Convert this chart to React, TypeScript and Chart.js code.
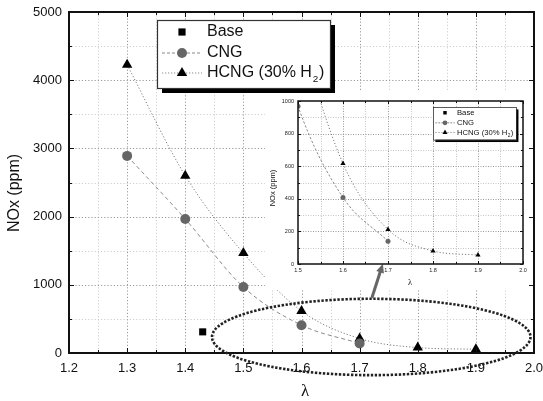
import React, { useEffect, useRef } from "react";
import { Chart, registerables } from "chart.js";
Chart.register(...registerables);

const SANS = "'Liberation Sans', Arial, Helvetica, sans-serif";
const SERIF = "'Liberation Serif', 'Times New Roman', serif";

// ---- data ----
const baseLambda = [1.43];
const baseNOx = [310];
const cngLambda = [1.3, 1.4, 1.5, 1.6, 1.7];
const cngNOx = [2890, 1965, 968, 408, 140];
const hcngLambda = [1.3, 1.4, 1.5, 1.6, 1.7, 1.8, 1.9];
const hcngNOx = [4225, 2600, 1465, 616, 212, 80, 55];
const seriesNames = ["Base", "CNG", "HCNG (30% H_2)"];

// ---- ticks ----
const mainXTicks = [1.2, 1.3, 1.4, 1.5, 1.6, 1.7, 1.8, 1.9, 2.0];
const mainXMinor = [1.25, 1.35, 1.45, 1.55, 1.65, 1.75, 1.85, 1.95];
const mainYTicks = [0, 1000, 2000, 3000, 4000, 5000];
const mainYMinor = [500, 1500, 2500, 3500, 4500];
const insetXTicks = [1.5, 1.6, 1.7, 1.8, 1.9, 2.0];
const insetXMinor = [1.55, 1.65, 1.75, 1.85, 1.95];
const insetYTicks = [0, 200, 400, 600, 800, 1000];
const insetYMinor = [100, 300, 500, 700, 900];

// ---- zoom annotation (data units) ----
const zoomCenter = { lambda: 1.72, nox: 235 };
const zoomRadius = { lambda: 0.274, nox: 560 };
const arrowFrom = { lambda: 1.721, nox: 806 };
const arrowTo = { lambda: 1.74, nox: 1310 };

// ---- layout ----
const W = 543;
const H = 401;
const INSET = { left: 265, top: 92, width: 268, height: 198 };

function pts(xs: number[], ys: number[]) {
  return xs.map((x, i) => ({ x, y: ys[i] }));
}

function makeDatasets(s: number): any[] {
  return [
    {
      label: seriesNames[0],
      data: pts(baseLambda, baseNOx),
      showLine: false,
      pointStyle: "rect",
      pointRadius: 5 * s,
      pointBackgroundColor: "#000",
      pointBorderColor: "#000",
      pointBorderWidth: 0,
    },
    {
      label: seriesNames[1],
      data: pts(cngLambda, cngNOx),
      showLine: true,
      borderColor: "#8a8a8a",
      borderWidth: 1,
      borderDash: [4 * Math.max(s, 0.6), 3 * Math.max(s, 0.6)],
      cubicInterpolationMode: "monotone",
      pointStyle: "circle",
      pointRadius: 5 * s,
      pointBackgroundColor: "#666",
      pointBorderColor: "#666",
      pointBorderWidth: 0,
    },
    {
      label: seriesNames[2],
      data: pts(hcngLambda, hcngNOx),
      showLine: true,
      borderColor: "#7a7a7a",
      borderWidth: 1,
      borderDash: [1.2, 2],
      cubicInterpolationMode: "monotone",
      pointStyle: "triangle",
      pointRadius: 6 * s,
      pointBackgroundColor: "#000",
      pointBorderColor: "#000",
      pointBorderWidth: 0,
    },
  ];
}

function drawLabel(ctx: CanvasRenderingContext2D, text: string, x: number, y: number, size: number) {
  const parts = text.split("_");
  ctx.textBaseline = "middle";
  ctx.textAlign = "left";
  ctx.font = `${size}px ${SANS}`;
  ctx.fillText(parts[0], x, y);
  if (parts.length > 1) {
    let cx = x + ctx.measureText(parts[0]).width;
    const sub = parts[1].charAt(0);
    const rest = parts[1].slice(1);
    ctx.font = `${size * 0.62}px ${SANS}`;
    ctx.fillText(sub, cx + size * 0.05, y + size * 0.42);
    cx += ctx.measureText(sub).width + size * 0.1;
    ctx.font = `${size}px ${SANS}`;
    ctx.fillText(rest, cx, y);
  }
}

function drawMarker(ctx: CanvasRenderingContext2D, kind: number, x: number, y: number, s: number) {
  ctx.setLineDash([]);
  if (kind === 0) {
    ctx.fillStyle = "#000";
    const a = 3.6 * s;
    ctx.fillRect(x - a, y - a, 2 * a, 2 * a);
  } else if (kind === 1) {
    ctx.fillStyle = "#666";
    ctx.beginPath();
    ctx.arc(x, y, 5 * s, 0, Math.PI * 2);
    ctx.fill();
  } else {
    ctx.fillStyle = "#000";
    const r = 6 * s;
    ctx.beginPath();
    ctx.moveTo(x, y - r);
    ctx.lineTo(x + r * 0.866, y + r * 0.5);
    ctx.lineTo(x - r * 0.866, y + r * 0.5);
    ctx.closePath();
    ctx.fill();
  }
}

function drawLegend(ctx: CanvasRenderingContext2D, left: number, top: number, s: number) {
  const w = 173 * s;
  const h = 68 * s;
  const sh = 5 * s;
  ctx.save();
  ctx.fillStyle = "#000";
  ctx.fillRect(left + sh, top + sh, w, h);
  ctx.fillStyle = "#fff";
  ctx.fillRect(left, top, w, h);
  ctx.strokeStyle = "#333";
  ctx.lineWidth = Math.max(0.8, 1.2 * s);
  ctx.strokeRect(left + 0.5, top + 0.5, w, h);
  const rows = [12, 33, 53];
  rows.forEach((ry, i) => {
    const y = top + ry * s;
    if (i > 0) {
      ctx.strokeStyle = "#888";
      ctx.lineWidth = 1;
      ctx.setLineDash(i === 1 ? [3 * Math.max(s, 0.6), 2 * Math.max(s, 0.6)] : [1.2, 1.8]);
      ctx.beginPath();
      ctx.moveTo(left + 5 * s, y);
      ctx.lineTo(left + 45 * s, y);
      ctx.stroke();
    }
    drawMarker(ctx, i, left + 25 * s, y, s);
    ctx.fillStyle = "#111";
    drawLabel(ctx, seriesNames[i], left + 50 * s, y, 16 * s);
  });
  ctx.restore();
}

interface FrameCfg {
  xMajor: number[];
  xMinor: number[];
  yMajor: number[];
  yMinor: number[];
  majorColor: string;
  minorColor: string;
  dash: number[];
  tickMajor: number;
  tickMinor: number;
  frameWidth: number;
  beforeFrame?: (chart: any) => void;
  afterFrame?: (chart: any) => void;
}

function framePlugin(cfg: FrameCfg) {
  return {
    id: "frameDeco",
    beforeDatasetsDraw(chart: any) {
      const { ctx, chartArea: a, scales } = chart;
      const x = scales.x;
      const y = scales.y;
      ctx.save();
      ctx.lineWidth = 1;
      ctx.setLineDash(cfg.dash);
      const vline = (v: number) => {
        const px = Math.round(x.getPixelForValue(v)) + 0.5;
        ctx.beginPath();
        ctx.moveTo(px, a.top);
        ctx.lineTo(px, a.bottom);
        ctx.stroke();
      };
      const hline = (v: number) => {
        const py = Math.round(y.getPixelForValue(v)) + 0.5;
        ctx.beginPath();
        ctx.moveTo(a.left, py);
        ctx.lineTo(a.right, py);
        ctx.stroke();
      };
      ctx.strokeStyle = cfg.minorColor;
      cfg.xMinor.forEach(vline);
      cfg.yMinor.forEach(hline);
      ctx.strokeStyle = cfg.majorColor;
      cfg.xMajor.slice(1, -1).forEach(vline);
      cfg.yMajor.slice(1, -1).forEach(hline);
      ctx.restore();
    },
    afterDatasetsDraw(chart: any) {
      const { ctx, chartArea: a, scales } = chart;
      const x = scales.x;
      const y = scales.y;
      if (cfg.beforeFrame) cfg.beforeFrame(chart);
      ctx.save();
      ctx.setLineDash([]);
      ctx.strokeStyle = "#111";
      ctx.lineWidth = cfg.frameWidth;
      ctx.strokeRect(a.left, a.top, a.right - a.left, a.bottom - a.top);
      ctx.lineWidth = 1;
      const tickX = (v: number, len: number) => {
        const px = Math.round(x.getPixelForValue(v)) + 0.5;
        ctx.beginPath();
        ctx.moveTo(px, a.bottom);
        ctx.lineTo(px, a.bottom - len);
        ctx.moveTo(px, a.top);
        ctx.lineTo(px, a.top + len);
        ctx.stroke();
      };
      const tickY = (v: number, len: number) => {
        const py = Math.round(y.getPixelForValue(v)) + 0.5;
        ctx.beginPath();
        ctx.moveTo(a.left, py);
        ctx.lineTo(a.left + len, py);
        ctx.moveTo(a.right, py);
        ctx.lineTo(a.right - len, py);
        ctx.stroke();
      };
      cfg.xMajor.forEach((v) => tickX(v, cfg.tickMajor));
      cfg.xMinor.forEach((v) => tickX(v, cfg.tickMinor));
      cfg.yMajor.forEach((v) => tickY(v, cfg.tickMajor));
      cfg.yMinor.forEach((v) => tickY(v, cfg.tickMinor));
      ctx.restore();
      if (cfg.afterFrame) cfg.afterFrame(chart);
    },
  };
}

function drawTitles(
  ctx: CanvasRenderingContext2D,
  yTitle: string,
  yx: number,
  yy: number,
  ySize: number,
  xTitle: string,
  xx: number,
  xy: number,
  xSize: number
) {
  ctx.save();
  ctx.fillStyle = "#111";
  ctx.textAlign = "center";
  ctx.textBaseline = "middle";
  ctx.font = `${ySize}px ${SANS}`;
  ctx.translate(yx, yy);
  ctx.rotate(-Math.PI / 2);
  ctx.fillText(yTitle, 0, 0);
  ctx.restore();
  ctx.save();
  ctx.fillStyle = "#111";
  ctx.textAlign = "center";
  ctx.textBaseline = "middle";
  ctx.font = `${xSize}px ${SERIF}`;
  ctx.fillText(xTitle, xx, xy);
  ctx.restore();
}

function fitX(h: number) {
  return (s: any) => {
    s.height = h;
    s.paddingLeft = 0;
    s.paddingRight = 0;
  };
}
function fitY(w: number) {
  return (s: any) => {
    s.width = w;
    s.paddingTop = 0;
    s.paddingBottom = 0;
  };
}

export default function App() {
  const mainRef = useRef<HTMLCanvasElement>(null);
  const insetRef = useRef<HTMLCanvasElement>(null);

  useEffect(() => {
    const mainDeco = framePlugin({
      xMajor: mainXTicks,
      xMinor: mainXMinor,
      yMajor: mainYTicks,
      yMinor: mainYMinor,
      majorColor: "#9a9a9a",
      minorColor: "#cfcfcf",
      dash: [1.2, 2],
      tickMajor: 5,
      tickMinor: 3,
      frameWidth: 2,
      beforeFrame: (chart: any) => {
        const ctx = chart.ctx as CanvasRenderingContext2D;
        ctx.save();
        ctx.fillStyle = "#fff";
        ctx.fillRect(INSET.left, INSET.top, INSET.width, INSET.height);
        ctx.restore();
      },
      afterFrame: (chart: any) => {
        const ctx = chart.ctx as CanvasRenderingContext2D;
        const x = chart.scales.x;
        const y = chart.scales.y;
        drawLegend(ctx, 157, 20, 1);
        // zoom ellipse
        const cx = x.getPixelForValue(zoomCenter.lambda);
        const cy = y.getPixelForValue(zoomCenter.nox);
        const rx = Math.abs(x.getPixelForValue(zoomCenter.lambda + zoomRadius.lambda) - cx);
        const ry = Math.abs(y.getPixelForValue(zoomCenter.nox + zoomRadius.nox) - cy);
        ctx.save();
        ctx.strokeStyle = "#222";
        ctx.lineWidth = 2.6;
        ctx.setLineDash([2.4, 1.6]);
        ctx.beginPath();
        ctx.ellipse(cx, cy, rx, ry, 0, 0, Math.PI * 2);
        ctx.stroke();
        ctx.restore();
        // arrow
        const ax = x.getPixelForValue(arrowFrom.lambda);
        const ay = y.getPixelForValue(arrowFrom.nox);
        const bx = x.getPixelForValue(arrowTo.lambda);
        const by = y.getPixelForValue(arrowTo.nox);
        const ang = Math.atan2(by - ay, bx - ax);
        const hl = 9;
        const hw = 4;
        ctx.save();
        ctx.strokeStyle = "#666";
        ctx.fillStyle = "#666";
        ctx.lineWidth = 3;
        ctx.beginPath();
        ctx.moveTo(ax, ay);
        ctx.lineTo(bx - Math.cos(ang) * hl * 0.8, by - Math.sin(ang) * hl * 0.8);
        ctx.stroke();
        ctx.beginPath();
        ctx.moveTo(bx, by);
        ctx.lineTo(
          bx - Math.cos(ang) * hl + Math.sin(ang) * hw,
          by - Math.sin(ang) * hl - Math.cos(ang) * hw
        );
        ctx.lineTo(
          bx - Math.cos(ang) * hl - Math.sin(ang) * hw,
          by - Math.sin(ang) * hl + Math.cos(ang) * hw
        );
        ctx.closePath();
        ctx.fill();
        ctx.restore();
      },
    });
    const mainTitles = {
      id: "mainTitles",
      afterDraw(chart: any) {
        drawTitles(chart.ctx, "NOx (ppm)", 15, 193, 16, "λ", 305, 392, 17);
      },
    };

    const main = new Chart(mainRef.current as HTMLCanvasElement, {
      type: "scatter",
      data: { datasets: makeDatasets(1) },
      options: {
        animation: false,
        responsive: false,
        devicePixelRatio: 1,
        layout: { padding: { top: 12, right: 9, left: 0, bottom: 0 } },
        plugins: { legend: { display: false }, tooltip: { enabled: false } },
        scales: {
          x: {
            type: "linear",
            min: 1.2,
            max: 2.0,
            afterFit: fitX(48),
            afterBuildTicks: (s: any) => {
              s.ticks = mainXTicks.map((v) => ({ value: v }));
            },
            grid: { display: false, drawTicks: false },
            border: { display: false },
            ticks: {
              color: "#111",
              padding: 8,
              font: { family: SANS, size: 13 },
              callback: (v: any) => Number(v).toFixed(1),
            },
          },
          y: {
            type: "linear",
            min: 0,
            max: 5000,
            afterFit: fitY(69),
            afterBuildTicks: (s: any) => {
              s.ticks = mainYTicks.map((v) => ({ value: v }));
            },
            grid: { display: false, drawTicks: false },
            border: { display: false },
            ticks: {
              color: "#111",
              padding: 7,
              font: { family: SANS, size: 13 },
              callback: (v: any) => String(v),
            },
          },
        },
      } as any,
      plugins: [mainDeco, mainTitles],
    });

    const insetDeco = framePlugin({
      xMajor: insetXTicks,
      xMinor: insetXMinor,
      yMajor: insetYTicks,
      yMinor: insetYMinor,
      majorColor: "#999",
      minorColor: "#c4c4c4",
      dash: [1, 1.5],
      tickMajor: 3,
      tickMinor: 2,
      frameWidth: 1.5,
      afterFrame: (chart: any) => {
        drawLegend(chart.ctx, 168, 15, 0.48);
      },
    });
    const insetTitles = {
      id: "insetTitles",
      afterDraw(chart: any) {
        drawTitles(chart.ctx, "NOx (ppm)", 8, 96, 7.5, "λ", 145, 191, 8.5);
      },
    };

    const inset = new Chart(insetRef.current as HTMLCanvasElement, {
      type: "scatter",
      data: { datasets: makeDatasets(0.5) },
      options: {
        animation: false,
        responsive: false,
        devicePixelRatio: 1,
        layout: { padding: { top: 9, right: 10, left: 0, bottom: 0 } },
        plugins: { legend: { display: false }, tooltip: { enabled: false } },
        scales: {
          x: {
            type: "linear",
            min: 1.5,
            max: 2.0,
            afterFit: fitX(26),
            afterBuildTicks: (s: any) => {
              s.ticks = insetXTicks.map((v) => ({ value: v }));
            },
            grid: { display: false, drawTicks: false },
            border: { display: false },
            ticks: {
              color: "#222",
              padding: 3,
              font: { family: SANS, size: 5.5 },
              callback: (v: any) => Number(v).toFixed(1),
            },
          },
          y: {
            type: "linear",
            min: 0,
            max: 1000,
            afterFit: fitY(33),
            afterBuildTicks: (s: any) => {
              s.ticks = insetYTicks.map((v) => ({ value: v }));
            },
            grid: { display: false, drawTicks: false },
            border: { display: false },
            ticks: {
              color: "#222",
              padding: 4,
              font: { family: SANS, size: 5.5 },
              callback: (v: any) => String(v),
            },
          },
        },
      } as any,
      plugins: [insetDeco, insetTitles],
    });

    return () => {
      main.destroy();
      inset.destroy();
    };
  }, []);

  return (
    <div style={{ position: "fixed", left: 0, top: 0, width: W, height: H, background: "#fff" }}>
      <canvas ref={mainRef} width={W} height={H} style={{ position: "absolute", left: 0, top: 0 }} />
      <canvas
        ref={insetRef}
        width={INSET.width}
        height={INSET.height}
        style={{ position: "absolute", left: INSET.left, top: INSET.top }}
      />
    </div>
  );
}
